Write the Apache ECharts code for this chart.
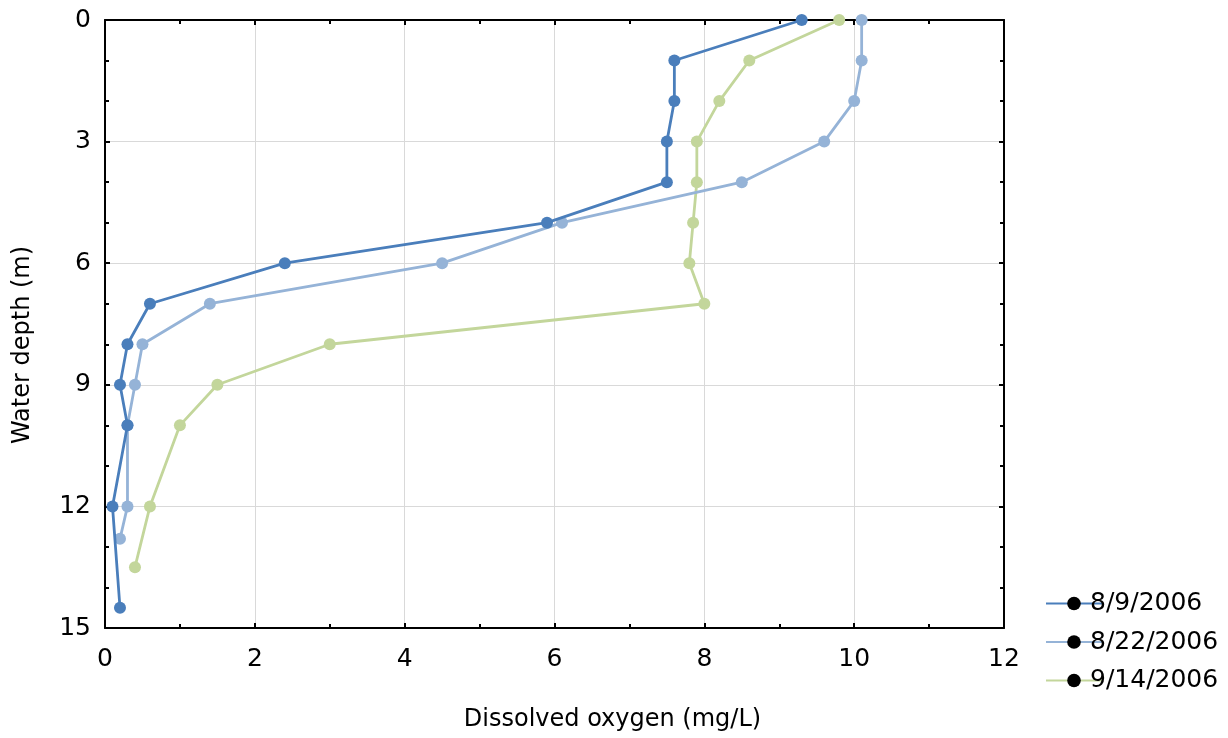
<!DOCTYPE html>
<html>
<head>
<meta charset="utf-8">
<script src="https://cdn.jsdelivr.net/npm/echarts@6/dist/echarts.min.js"></script>
<style>
  html, body { margin: 0; padding: 0; background: #fff; }
  #chart { width: 1228px; height: 738px; }
</style>
</head>
<body>
<div id="chart"></div>
<script>
// Dissolved oxygen profiles: [DO mg/L, depth m]
const seriesNames = ['8/9/2006', '8/22/2006', '9/14/2006'];
const do0809 = [[9.3, 0], [7.6, 1], [7.6, 2], [7.5, 3], [7.5, 4], [5.9, 5], [2.4, 6], [0.6, 7], [0.3, 8], [0.2, 9], [0.3, 10], [0.1, 12], [0.2, 14.5]];
const do0822 = [[10.1, 0], [10.1, 1], [10.0, 2], [9.6, 3], [8.5, 4], [6.1, 5], [4.5, 6], [1.4, 7], [0.5, 8], [0.4, 9], [0.3, 10], [0.3, 12], [0.2, 12.8]];
const do0914 = [[9.8, 0], [8.6, 1], [8.2, 2], [7.9, 3], [7.9, 4], [7.85, 5], [7.8, 6], [8.0, 7], [3.0, 8], [1.5, 9], [1.0, 10], [0.6, 12], [0.4, 13.5]];
const seriesColors = ['#4a7ebb', '#95b3d7', '#c3d69b'];

const font = '"DejaVu Sans", Verdana, sans-serif';
const axisLine = { show: true, onZero: false, lineStyle: { color: '#000', width: 2 } };
const tick = { show: true, inside: true, length: 5, lineStyle: { color: '#000', width: 2 } };
const minor = (n) => ({ show: true, splitNumber: n, length: 4, lineStyle: { color: '#000', width: 2 } });

const chart = echarts.init(document.getElementById('chart'), null, { renderer: 'canvas' });
const data = [do0809, do0822, do0914];

chart.setOption({
  animation: false,
  backgroundColor: '#fff',
  grid: { left: 105, right: 224, top: 20, bottom: 110, containLabel: false },
  legend: {
    orient: 'vertical',
    left: 1040,
    top: 586,
    itemWidth: 56,
    itemHeight: 17,
    itemGap: 13.5,
    itemStyle: { color: '#000' },
    textStyle: { fontFamily: font, fontSize: 25, color: '#000', padding: [0, 0, 0, -17] },
    data: seriesNames
  },
  xAxis: [
    {
      type: 'value', position: 'bottom', min: 0, max: 12, interval: 2,
      name: 'Dissolved oxygen (mg/L)', nameLocation: 'middle', nameGap: 80,
      nameTextStyle: { fontFamily: font, fontSize: 24, color: '#000', padding: [0, 0, 0, 116] },
      axisLine, axisTick: tick, minorTick: minor(2),
      axisLabel: { fontFamily: font, fontSize: 25, color: '#000', margin: 19 },
      splitLine: { show: true, lineStyle: { color: '#d9d9d9', width: 1 } }
    },
    {
      type: 'value', position: 'top', min: 0, max: 12, interval: 2,
      axisLine, axisTick: tick, minorTick: minor(2),
      axisLabel: { show: false }, splitLine: { show: false }
    }
  ],
  yAxis: [
    {
      type: 'value', position: 'left', inverse: true, min: 0, max: 15, interval: 3,
      name: 'Water depth (m)', nameLocation: 'middle', nameGap: 70,
      nameTextStyle: { fontFamily: font, fontSize: 24, color: '#000', padding: [0, 42, 0, 0] },
      axisLine, axisTick: tick, minorTick: minor(3),
      axisLabel: { fontFamily: font, fontSize: 25, color: '#000', margin: 14 },
      splitLine: { show: true, lineStyle: { color: '#d9d9d9', width: 1 } }
    },
    {
      type: 'value', position: 'right', inverse: true, min: 0, max: 15, interval: 3,
      axisLine, axisTick: tick, minorTick: minor(3),
      axisLabel: { show: false }, splitLine: { show: false }
    }
  ],
  series: seriesNames.map((name, i) => ({
    name,
    type: 'line',
    data: data[i],
    xAxisIndex: 0,
    yAxisIndex: 0,
    symbol: 'circle',
    symbolSize: 12,
    showSymbol: true,
    lineStyle: { color: seriesColors[i], width: 2.8 },
    itemStyle: { color: seriesColors[i] },
    z: 3 - i
  }))
});
</script>
</body>
</html>
